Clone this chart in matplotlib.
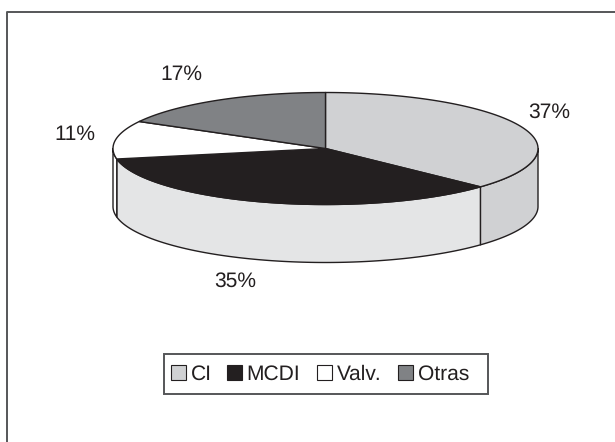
import numpy as np
import matplotlib
matplotlib.use("Agg")
import matplotlib.pyplot as plt
from matplotlib.patches import Polygon, Rectangle

plt.rcParams['font.family'] = ['Liberation Sans', 'DejaVu Sans']
plt.rcParams['text.hinting'] = 'no_hinting'
plt.rcParams['text.hinting_factor'] = 1

categories = ["CI", "MCDI", "Valv.", "Otras"]
shares = [37, 35, 11, 17]
top_colors = ["#d0d1d3", "#231f20", "#ffffff", "#808285"]
side_colors = ["#d0d1d3", "#e4e5e6", "#ffffff", "#808285"]
label_pos = [(549, 112), (235, 281), (75, 134.5), (181, 74.5)]
legend_swatch_x = [171, 227, 316.5, 398]
legend_text_x = [191, 246.5, 337, 418]

INK = "#231f20"
W, H = 615, 442
CX, CY, RX, RY, DEPTH = 325.5, 148.5, 212.5, 56, 58

fig = plt.figure(figsize=(W / 100, H / 100), dpi=100)
ax = fig.add_axes([0, 0, 1, 1])
ax.set_xlim(0, W)
ax.set_ylim(H, 0)
ax.axis("off")

# chart border: runs off the right and bottom of the canvas
ax.plot([6.5, 6.5, W + 2], [H + 2, 11.5, 11.5], color="#555658", lw=1.4, clip_on=True)


def rim(a0, a1, n=120):
    """Points on the top ellipse; angles run clockwise from twelve o'clock."""
    t = np.radians(np.linspace(a0, a1, n))
    return np.column_stack([CX + RX * np.sin(t), CY - RY * np.cos(t)])


edges = np.cumsum([0] + shares) * 360 / sum(shares)

# side wall: only the part of each slice facing the viewer (90..270 degrees)
for a0, a1, col in zip(edges[:-1], edges[1:], side_colors):
    lo, hi = max(a0, 90), min(a1, 270)
    if lo < hi:
        arc = rim(lo, hi)
        wall = np.vstack([arc, (arc + [0, DEPTH])[::-1]])
        ax.add_patch(Polygon(wall, closed=True, fc=col, ec=INK, lw=1.0, joinstyle="round"))

# top face
for a0, a1, col in zip(edges[:-1], edges[1:], top_colors):
    pts = np.vstack([[CX, CY], rim(a0, a1)])
    ax.add_patch(Polygon(pts, closed=True, fc=col, ec=INK, lw=1.0, joinstyle="round"))

for share, (x, y) in zip(shares, label_pos):
    ax.text(x, y, f"{share}%", ha="center", va="center", fontsize=15.2, color=INK)

# legend box with swatches and names laid out by hand
ax.add_patch(Rectangle((163.5, 353.5), 324.5, 40, fc="white", ec="#555658", lw=1.4))
for name, col, sx, tx in zip(categories, top_colors, legend_swatch_x, legend_text_x):
    ax.add_patch(Rectangle((sx, 365), 15, 15, fc=col, ec=INK, lw=0.8))
    ax.text(tx, 380, name, ha="left", va="baseline", fontsize=15.2, color=INK)

fig.savefig("out.png", dpi=100)
